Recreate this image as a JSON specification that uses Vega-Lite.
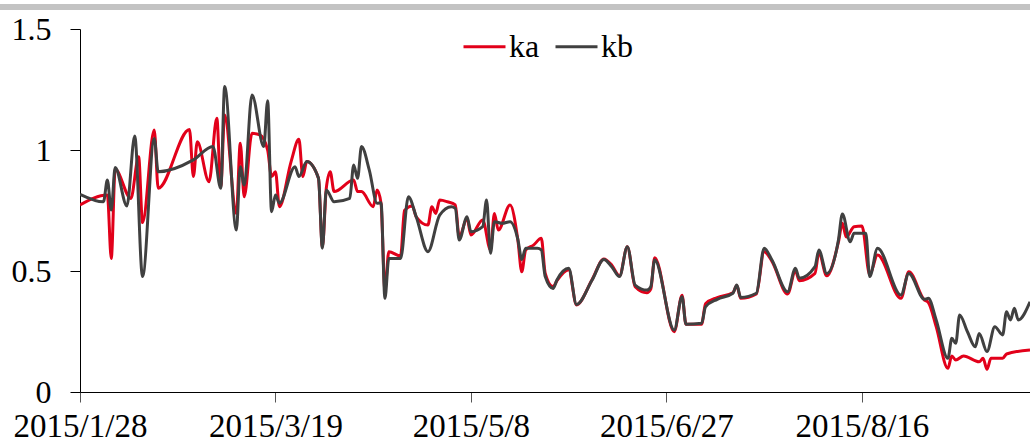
{
  "$schema": "https://vega.github.io/schema/vega-lite/v6.json",
  "width": 950,
  "height": 363,
  "autosize": {"type": "none"},
  "padding": {"left": 80, "top": 29, "right": 0, "bottom": 55},
  "background": "white",
  "config": {
    "view": {"stroke": null},
    "font": "Liberation Serif"
  },
  "datasets": {
    "kb": [
      {"date":"2015/01/28","value":0.817},{"date":"2015/02/03","value":0.786},{"date":"2015/02/04","value":0.876},{"date":"2015/02/05","value":0.752},{"date":"2015/02/06","value":0.928},{"date":"2015/02/09","value":0.769},{"date":"2015/02/11","value":1.058},{"date":"2015/02/13","value":0.477},{"date":"2015/02/16","value":1.048},{"date":"2015/02/17","value":0.91},{"date":"2015/02/26","value":0.959},{"date":"2015/03/03","value":1.014},{"date":"2015/03/05","value":0.842},{"date":"2015/03/06","value":1.262},{"date":"2015/03/09","value":0.669},{"date":"2015/03/10","value":0.931},{"date":"2015/03/11","value":0.855},{"date":"2015/03/13","value":1.227},{"date":"2015/03/16","value":1.014},{"date":"2015/03/17","value":1.204},{"date":"2015/03/18","value":0.745},{"date":"2015/03/19","value":0.814},{"date":"2015/03/20","value":0.78},{"date":"2015/03/24","value":0.931},{"date":"2015/03/25","value":0.89},{"date":"2015/03/27","value":0.952},{"date":"2015/03/30","value":0.883},{"date":"2015/03/31","value":0.594},{"date":"2015/04/01","value":0.835},{"date":"2015/04/03","value":0.786},{"date":"2015/04/07","value":0.8},{"date":"2015/04/08","value":0.938},{"date":"2015/04/09","value":0.883},{"date":"2015/04/10","value":1.014},{"date":"2015/04/12","value":0.917},{"date":"2015/04/14","value":0.78},{"date":"2015/04/15","value":0.782},{"date":"2015/04/16","value":0.387},{"date":"2015/04/17","value":0.552},{"date":"2015/04/20","value":0.552},{"date":"2015/04/22","value":0.807},{"date":"2015/04/24","value":0.724},{"date":"2015/04/27","value":0.58},{"date":"2015/04/30","value":0.731},{"date":"2015/05/03","value":0.766},{"date":"2015/05/04","value":0.759},{"date":"2015/05/05","value":0.628},{"date":"2015/05/07","value":0.724},{"date":"2015/05/08","value":0.662},{"date":"2015/05/11","value":0.683},{"date":"2015/05/12","value":0.793},{"date":"2015/05/13","value":0.573},{"date":"2015/05/14","value":0.704},{"date":"2015/05/16","value":0.697},{"date":"2015/05/18","value":0.704},{"date":"2015/05/20","value":0.631},{"date":"2015/05/21","value":0.548},{"date":"2015/05/22","value":0.594},{"date":"2015/05/25","value":0.594},{"date":"2015/05/26","value":0.587},{"date":"2015/05/27","value":0.477},{"date":"2015/05/29","value":0.428},{"date":"2015/05/30","value":0.463},{"date":"2015/06/02","value":0.511},{"date":"2015/06/04","value":0.362},{"date":"2015/06/08","value":0.463},{"date":"2015/06/11","value":0.548},{"date":"2015/06/13","value":0.518},{"date":"2015/06/15","value":0.477},{"date":"2015/06/17","value":0.6},{"date":"2015/06/19","value":0.442},{"date":"2015/06/22","value":0.421},{"date":"2015/06/23","value":0.435},{"date":"2015/06/24","value":0.545},{"date":"2015/06/29","value":0.256},{"date":"2015/07/01","value":0.394},{"date":"2015/07/02","value":0.28},{"date":"2015/07/06","value":0.284},{"date":"2015/07/07","value":0.352},{"date":"2015/07/10","value":0.383},{"date":"2015/07/14","value":0.408},{"date":"2015/07/15","value":0.442},{"date":"2015/07/16","value":0.391},{"date":"2015/07/20","value":0.408},{"date":"2015/07/22","value":0.594},{"date":"2015/07/24","value":0.545},{"date":"2015/07/28","value":0.414},{"date":"2015/07/30","value":0.511},{"date":"2015/07/31","value":0.47},{"date":"2015/08/04","value":0.518},{"date":"2015/08/05","value":0.587},{"date":"2015/08/07","value":0.49},{"date":"2015/08/10","value":0.628},{"date":"2015/08/11","value":0.736},{"date":"2015/08/13","value":0.621},{"date":"2015/08/14","value":0.656},{"date":"2015/08/17","value":0.656},{"date":"2015/08/18","value":0.477},{"date":"2015/08/20","value":0.594},{"date":"2015/08/26","value":0.401},{"date":"2015/08/28","value":0.49},{"date":"2015/09/01","value":0.383},{"date":"2015/09/02","value":0.387},{"date":"2015/09/04","value":0.298},{"date":"2015/09/07","value":0.139},{"date":"2015/09/08","value":0.222},{"date":"2015/09/09","value":0.201},{"date":"2015/09/10","value":0.318},{"date":"2015/09/12","value":0.249},{"date":"2015/09/14","value":0.187},{"date":"2015/09/15","value":0.242},{"date":"2015/09/17","value":0.167},{"date":"2015/09/19","value":0.27},{"date":"2015/09/21","value":0.236},{"date":"2015/09/22","value":0.332},{"date":"2015/09/23","value":0.298},{"date":"2015/09/24","value":0.346},{"date":"2015/09/25","value":0.298},{"date":"2015/09/28","value":0.373}
    ],
    "ka": [
      {"date":"2015/01/28","value":0.773},{"date":"2015/02/04","value":0.814},{"date":"2015/02/05","value":0.552},{"date":"2015/02/06","value":0.92},{"date":"2015/02/10","value":0.8},{"date":"2015/02/12","value":0.972},{"date":"2015/02/13","value":0.7},{"date":"2015/02/16","value":1.083},{"date":"2015/02/17","value":0.842},{"date":"2015/02/25","value":1.085},{"date":"2015/02/26","value":0.89},{"date":"2015/02/27","value":1.034},{"date":"2015/03/02","value":0.869},{"date":"2015/03/04","value":1.131},{"date":"2015/03/05","value":0.848},{"date":"2015/03/06","value":1.145},{"date":"2015/03/09","value":0.738},{"date":"2015/03/10","value":1.028},{"date":"2015/03/11","value":0.807},{"date":"2015/03/13","value":1.069},{"date":"2015/03/15","value":1.062},{"date":"2015/03/17","value":1.0},{"date":"2015/03/18","value":0.89},{"date":"2015/03/19","value":0.91},{"date":"2015/03/20","value":0.766},{"date":"2015/03/23","value":0.952},{"date":"2015/03/25","value":1.044},{"date":"2015/03/26","value":0.89},{"date":"2015/03/27","value":0.952},{"date":"2015/03/30","value":0.883},{"date":"2015/03/31","value":0.6},{"date":"2015/04/01","value":0.842},{"date":"2015/04/02","value":0.91},{"date":"2015/04/03","value":0.828},{"date":"2015/04/08","value":0.876},{"date":"2015/04/09","value":0.828},{"date":"2015/04/10","value":0.828},{"date":"2015/04/13","value":0.766},{"date":"2015/04/14","value":0.835},{"date":"2015/04/15","value":0.78},{"date":"2015/04/16","value":0.421},{"date":"2015/04/17","value":0.58},{"date":"2015/04/20","value":0.562},{"date":"2015/04/21","value":0.75},{"date":"2015/04/23","value":0.769},{"date":"2015/04/24","value":0.724},{"date":"2015/04/27","value":0.69},{"date":"2015/04/28","value":0.766},{"date":"2015/04/29","value":0.738},{"date":"2015/04/30","value":0.793},{"date":"2015/05/02","value":0.786},{"date":"2015/05/04","value":0.773},{"date":"2015/05/05","value":0.642},{"date":"2015/05/07","value":0.717},{"date":"2015/05/08","value":0.649},{"date":"2015/05/11","value":0.711},{"date":"2015/05/13","value":0.587},{"date":"2015/05/14","value":0.738},{"date":"2015/05/15","value":0.669},{"date":"2015/05/18","value":0.773},{"date":"2015/05/20","value":0.628},{"date":"2015/05/21","value":0.497},{"date":"2015/05/22","value":0.587},{"date":"2015/05/24","value":0.607},{"date":"2015/05/26","value":0.635},{"date":"2015/05/27","value":0.49},{"date":"2015/05/29","value":0.435},{"date":"2015/05/30","value":0.46},{"date":"2015/06/02","value":0.505},{"date":"2015/06/04","value":0.36},{"date":"2015/06/08","value":0.465},{"date":"2015/06/11","value":0.55},{"date":"2015/06/13","value":0.525},{"date":"2015/06/15","value":0.48},{"date":"2015/06/17","value":0.6},{"date":"2015/06/19","value":0.435},{"date":"2015/06/22","value":0.41},{"date":"2015/06/23","value":0.425},{"date":"2015/06/24","value":0.555},{"date":"2015/06/29","value":0.249},{"date":"2015/07/01","value":0.4},{"date":"2015/07/02","value":0.28},{"date":"2015/07/06","value":0.28},{"date":"2015/07/07","value":0.365},{"date":"2015/07/10","value":0.39},{"date":"2015/07/14","value":0.41},{"date":"2015/07/15","value":0.44},{"date":"2015/07/16","value":0.387},{"date":"2015/07/20","value":0.405},{"date":"2015/07/22","value":0.58},{"date":"2015/07/24","value":0.54},{"date":"2015/07/28","value":0.405},{"date":"2015/07/30","value":0.5},{"date":"2015/07/31","value":0.46},{"date":"2015/08/04","value":0.49},{"date":"2015/08/05","value":0.575},{"date":"2015/08/07","value":0.48},{"date":"2015/08/10","value":0.62},{"date":"2015/08/11","value":0.697},{"date":"2015/08/12","value":0.64},{"date":"2015/08/14","value":0.683},{"date":"2015/08/16","value":0.686},{"date":"2015/08/18","value":0.485},{"date":"2015/08/20","value":0.566},{"date":"2015/08/26","value":0.387},{"date":"2015/08/28","value":0.497},{"date":"2015/09/01","value":0.38},{"date":"2015/09/02","value":0.37},{"date":"2015/09/04","value":0.27},{"date":"2015/09/07","value":0.098},{"date":"2015/09/08","value":0.149},{"date":"2015/09/09","value":0.132},{"date":"2015/09/11","value":0.149},{"date":"2015/09/15","value":0.125},{"date":"2015/09/16","value":0.139},{"date":"2015/09/17","value":0.094},{"date":"2015/09/18","value":0.139},{"date":"2015/09/21","value":0.139},{"date":"2015/09/22","value":0.157},{"date":"2015/09/28","value":0.174}
    ]
  },
  "layer": [
    {
      "data": {"values": [{}]},
      "mark": {"type": "rule", "color": "#c3c3c3", "strokeWidth": 6, "clip": false},
      "encoding": {
        "x": {"datum": {"year": 2015, "month": 1, "date": 7}, "type": "temporal"},
        "x2": {"datum": {"year": 2015, "month": 10, "date": 6}},
        "y": {"datum": 1.591, "type": "quantitative"}
      }
    },
    {
      "data": {"name": "ka"},
      "mark": {"type": "line", "interpolate": "monotone", "strokeWidth": 3, "clip": true},
      "encoding": {
        "x": {"field": "date", "type": "temporal"},
        "y": {"field": "value", "type": "quantitative"},
        "color": {"datum": "ka", "type": "nominal"}
      }
    },
    {
      "data": {"name": "kb"},
      "mark": {"type": "line", "interpolate": "monotone", "strokeWidth": 3, "clip": true},
      "encoding": {
        "x": {"field": "date", "type": "temporal"},
        "y": {"field": "value", "type": "quantitative"},
        "color": {"datum": "kb", "type": "nominal"}
      }
    }
  ],
  "resolve": {"scale": {"x": "shared", "y": "shared", "color": "shared"}},
  "encoding": {
    "x": {
      "type": "temporal",
      "scale": {"domain": [{"year": 2015, "month": 1, "date": 28}, {"year": 2015, "month": 9, "date": 28}]},
      "axis": {
        "title": null,
        "grid": false,
        "values": [{"year": 2015, "month": 1, "date": 28}, {"year": 2015, "month": 3, "date": 19}, {"year": 2015, "month": 5, "date": 8}, {"year": 2015, "month": 6, "date": 27}, {"year": 2015, "month": 8, "date": 16}],
        "format": "%Y/%-m/%-d",
        "tickSize": 10,
        "tickColor": "#555555",
        "domainColor": "#000000",
        "labelPadding": 8,
        "labelFont": "Liberation Serif",
        "labelFontSize": 33,
        "labelColor": "#000000",
        "labelFlush": false,
        "labelOverlap": false,
        "labelBound": false
      }
    },
    "y": {
      "type": "quantitative",
      "scale": {"domain": [0, 1.5]},
      "axis": {
        "title": null,
        "grid": false,
        "values": [0, 0.5, 1, 1.5],
        "format": "~g",
        "tickSize": 10,
        "tickColor": "#000000",
        "domainColor": "#000000",
        "labelPadding": 19,
        "labelFont": "Liberation Serif",
        "labelFontSize": 32,
        "labelColor": "#000000"
      }
    },
    "color": {
      "type": "nominal",
      "scale": {"domain": ["ka", "kb"], "range": ["#e2001a", "#404040"]},
      "legend": {
        "title": null,
        "orient": "none",
        "legendX": 382,
        "legendY": -5,
        "direction": "horizontal",
        "padding": 0,
        "symbolType": "stroke",
        "symbolSize": 1764,
        "symbolStrokeWidth": 3,
        "labelOffset": 2,
        "columnPadding": 9,
        "labelFont": "Liberation Serif",
        "labelFontSize": 32,
        "labelColor": "#000000"
      }
    }
  }
}
